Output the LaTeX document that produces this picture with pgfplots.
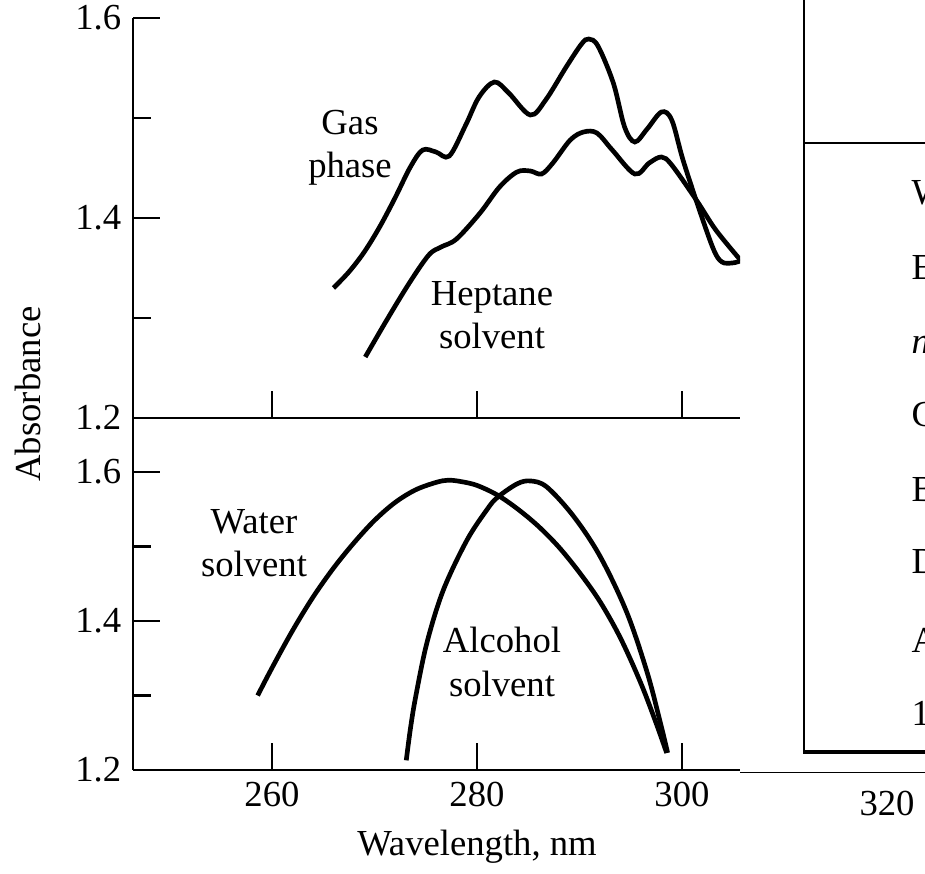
\documentclass[border=0pt]{standalone}
\usepackage{fontspec}
\setmainfont{Liberation Serif}
\usepackage{pgfplots}
\pgfplotsset{compat=1.18}
\newcommand{\fs}{\fontsize{11}{13}\selectfont}
\pgfplotstableread{
x y
266.0 1.330
267.5 1.346
269.0 1.366
270.5 1.391
272.0 1.420
273.5 1.451
274.7 1.468
276.0 1.466
277.3 1.462
278.9 1.493
280.2 1.521
281.7 1.536
283.1 1.525
285.2 1.503
286.7 1.518
288.7 1.551
290.2 1.574
290.9 1.579
291.8 1.572
293.3 1.535
294.4 1.491
295.4 1.476
296.6 1.489
298.0 1.506
299.0 1.498
300.1 1.458
301.7 1.408
303.1 1.368
303.9 1.356
304.9 1.355
305.7 1.357
}\gas
\pgfplotstableread{
x y
269.1 1.261
271.2 1.298
273.4 1.335
275.3 1.363
276.5 1.371
278.0 1.379
280.3 1.405
282.2 1.431
283.9 1.446
285.2 1.447
286.3 1.444
287.4 1.455
289.1 1.478
290.4 1.486
291.7 1.485
293.2 1.468
295.4 1.444
296.8 1.455
298.0 1.461
299.0 1.453
301.4 1.418
303.3 1.388
305.7 1.358
}\heptane
\pgfplotstableread{
x y
258.6 1.300
260.0 1.337
262.0 1.387
264.0 1.432
266.0 1.471
268.0 1.505
270.0 1.535
272.0 1.559
274.0 1.576
276.0 1.586
277.2 1.589
278.5 1.587
280.0 1.582
282.0 1.569
284.0 1.550
286.0 1.527
288.0 1.499
290.0 1.465
292.0 1.426
294.0 1.377
296.0 1.316
297.5 1.262
298.5 1.223
}\water
\pgfplotstableread{
x y
273.1 1.213
273.5 1.255
274.0 1.297
275.1 1.370
276.7 1.441
279.0 1.508
281.0 1.550
282.0 1.566
283.9 1.584
285.2 1.588
286.8 1.580
289.4 1.541
292.0 1.487
294.6 1.412
296.6 1.331
297.9 1.263
298.6 1.223
}\alcohol
\pgfplotsset{
 panel/.style={
  scale only axis, width=182.1pt, xmin=246.44, xmax=305.66,
  axis x line*=bottom, axis y line*=left,
  axis line style={line width=0.8pt, -},
  tick align=inside, major tick length=8pt, minor tick length=5.4pt,
  tick style={line width=0.7pt, black},
  xtick={260,280,300}, ytick={1.2,1.4,1.6}, minor ytick={1.3,1.5},
  yticklabels={1.2,1.4,1.6},
  ticklabel style={font=\fs},
  /pgf/number format/assume math mode=true,
  clip=true,
 },
 crv/.style={black, line width=1.4pt, smooth, tension=0.55, no markers},
}
\begin{document}
\begin{tikzpicture}
\path[use as bounding box] (0,0) rectangle (277.5pt,261.9pt);
\clip (0,0) rectangle (277.5pt,261.9pt);
% bottom panel
\begin{axis}[panel, at={(39.9pt,30.9pt)}, anchor=south west,
  height=105.6pt, ymin=1.2, ymax=1.6725,
  xticklabels={260,280,300}]
  \addplot[crv] table[x=x,y=y] {\water};
  \addplot[crv] table[x=x,y=y] {\alcohol};
\end{axis}
% top panel
\begin{axis}[panel, at={(39.9pt,136.5pt)}, anchor=south west,
  height=120pt, ymin=1.2, ymax=1.6,
  xticklabels={,,}]
  \addplot[crv] table[x=x,y=y] {\gas};
  \addplot[crv] table[x=x,y=y] {\heptane};
\end{axis}
\begin{scope}[x=0.3pt,y=-0.3pt,shift={(0pt,261.9pt)}]
  \draw[line width=0.3pt] (740,772) -- (930,772);
  \draw[line width=0.7pt] (804,-5) -- (804,752);
  \draw[line width=0.6pt] (804,143) -- (930,143);
  \draw[line width=1.3pt] (803,752) -- (930,752);
  \node[font=\fs] at (887,803) {320};
  \node[font=\fs] at (477,847) {Wavelength, nm};
  \node[font=\fs, rotate=90] at (28,394) {Absorbance};
  \node[font=\fs, align=center] at (350,148) {Gas\\phase};
  \node[font=\fs, align=center] at (492,315) {Heptane\\solvent};
  \node[font=\fs, align=center] at (254,543) {Water\\solvent};
  \node[font=\fs, align=center] at (502,662) {Alcohol\\solvent};
  \foreach \yy/\tt in {193/Water, 267/Ethanol, 342/{\textit{n}-Hexane}, 418/Cyclohexane, 490/Benzene, 565/Diethyl ether, 641/Acetone, 716/{1,4-Dioxane}}
    \node[font=\fs, anchor=west, inner sep=0pt] at (911,\yy) {\tt};
\end{scope}
\end{tikzpicture}
\end{document}
